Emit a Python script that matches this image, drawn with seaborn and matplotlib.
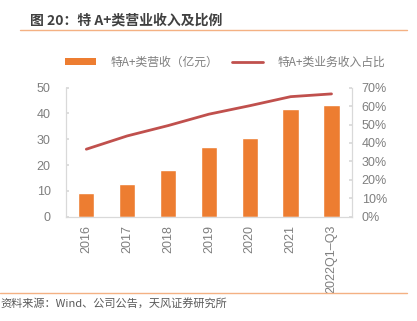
import matplotlib
matplotlib.use("Agg")
import matplotlib.pyplot as plt
import seaborn as sns
import pandas as pd
from matplotlib.patches import Patch
from matplotlib.lines import Line2D

categories = ["2016", "2017", "2018", "2019", "2020", "2021", "2022Q1–Q3"]
revenue = [9.2, 12.8, 18.2, 27.0, 30.6, 41.6, 43.4]
share = [36.6, 43.8, 49.4, 55.6, 60.2, 65.1, 66.6]
left_ticks = [0, 10, 20, 30, 40, 50]
right_ticks = [0, 10, 20, 30, 40, 50, 60, 70]

title = "图 20：特 A+类营业收入及比例"
bar_label = "特A+类营收（亿元）"
line_label = "特A+类业务收入占比"
source = "资料来源：Wind、公司公告，天风证券研究所"

sns.set_theme(style="white")
plt.rcParams['font.family'] = ['Noto Sans CJK SC', 'DejaVu Sans']

ORANGE = "#ED7D31"
RED = "#C0504D"
GRAY = "#595959"
TICKGRAY = "#7F7F7F"
SPINE = "#D9D9D9"
NUMFONT = ['Liberation Sans', 'Noto Sans CJK SC']

df = pd.DataFrame({"cat": categories, "rev": revenue, "share": share})

fig = plt.figure(figsize=(4.17, 3.21), dpi=100)
ax = fig.add_axes([0.158, 0.325, 0.686, 0.402])
sns.barplot(data=df, x="cat", y="rev", color=ORANGE, width=0.4, ax=ax, saturation=1)
ax.set_xlim(-0.5, len(categories) - 0.5)
ax.set_ylim(0, 50)
ax.set_yticks(left_ticks)
ax.set_xlabel("")
ax.set_ylabel("")
ax.tick_params(axis='y', labelsize=9, colors=TICKGRAY, length=2, direction='in', color=SPINE, pad=11)
ax.tick_params(axis='x', labelsize=9, colors=TICKGRAY, length=0, rotation=90, pad=6)
for lab in ax.get_xticklabels() + ax.get_yticklabels():
    lab.set_fontfamily(NUMFONT)
ax.spines["top"].set_visible(False)
for s in ["left", "bottom", "right"]:
    ax.spines[s].set_color(SPINE)
    ax.spines[s].set_linewidth(0.8)

ax2 = ax.twinx()
sns.lineplot(x=list(range(len(categories))), y=share, color=RED, linewidth=2, ax=ax2)
ax2.set_ylim(0, 70)
ax2.set_yticks(right_ticks)
ax2.set_yticklabels([f"{t}%" for t in right_ticks])
ax2.tick_params(axis='y', labelsize=9, colors=TICKGRAY, length=2, direction='in', color=SPINE, pad=7)
for lab in ax2.get_yticklabels():
    lab.set_fontfamily(NUMFONT)
ax2.spines["top"].set_visible(False)
for s in ["left", "bottom", "right"]:
    ax2.spines[s].set_color(SPINE)
    ax2.spines[s].set_linewidth(0.8)

# Legend
handles = [Patch(facecolor=ORANGE, edgecolor='none'), Line2D([0], [0], color=RED, lw=2)]
fig.legend(handles, [bar_label, line_label], loc='center', bbox_to_anchor=(0.54, 0.807),
           ncol=2, frameon=False, fontsize=8.5, handlelength=2.6, handleheight=0.5,
           columnspacing=1.2, handletextpad=1.2, labelcolor=TICKGRAY)

# Title and decorations
fig.text(0.072, 0.937, title, fontsize=10, fontweight='bold', color="#404040", va='center', ha='left')
fig.add_artist(Line2D([0.048, 0.975], [0.906, 0.906], color="#F4B183", lw=1, transform=fig.transFigure))
fig.add_artist(Line2D([0.0, 0.975], [0.088, 0.088], color="#F4B183", lw=1, transform=fig.transFigure))
fig.text(0.0, 0.055, source, fontsize=8, color=GRAY, va='center', ha='left')

fig.savefig("out.png", dpi=100, facecolor="white")
